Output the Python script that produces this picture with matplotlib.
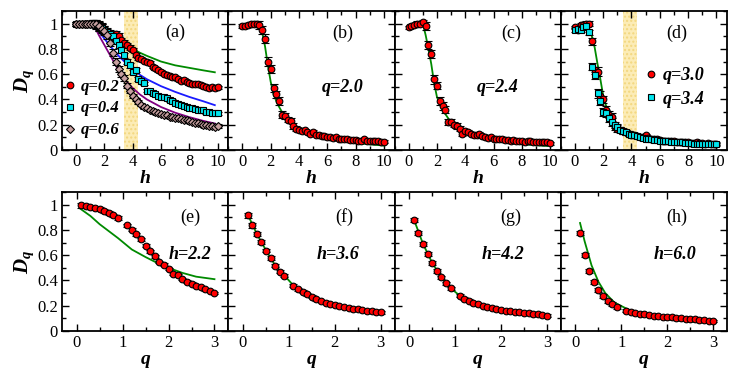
import matplotlib
matplotlib.use("Agg")
import matplotlib.pyplot as plt
from matplotlib.lines import Line2D
from matplotlib.ticker import MultipleLocator, FixedLocator, FixedFormatter

plt.rcParams['font.family'] = ['Liberation Serif', 'DejaVu Serif']
plt.rcParams['mathtext.fontset'] = 'custom'
plt.rcParams['mathtext.it'] = 'Liberation Serif:bold:italic'
plt.rcParams['mathtext.rm'] = 'Liberation Serif:bold'

# ---------------- data: top row, D_q vs h ----------------
h_vals = [0.0, 0.2, 0.4, 0.6, 0.8, 1.0, 1.2, 1.4, 1.6, 1.8, 2.0, 2.2, 2.4, 2.6, 2.8,
          3.0, 3.2, 3.4, 3.6, 3.8, 4.0, 4.2, 4.4, 4.6, 4.8, 5.0, 5.2, 5.4, 5.6, 5.8,
          6.0, 6.2, 6.4, 6.6, 6.8, 7.0, 7.2, 7.4, 7.6, 7.8, 8.0, 8.2, 8.4, 8.6, 8.8,
          9.0, 9.2, 9.4, 9.6, 9.8, 10.0]

err_h = [0.015, 0.015, 0.015, 0.02, 0.02, 0.02, 0.03, 0.03, 0.035, 0.035, 0.03, 0.03,
         0.03, 0.03, 0.025, 0.025, 0.02, 0.02, 0.02, 0.02, 0.015, 0.015, 0.015, 0.015,
         0.012, 0.012, 0.012, 0.012, 0.012, 0.012, 0.012, 0.012, 0.012, 0.012, 0.012,
         0.012, 0.012, 0.012, 0.012, 0.012, 0.012, 0.012, 0.012, 0.012, 0.012, 0.012,
         0.012, 0.012, 0.012, 0.012, 0.012]

dq_a_02 = [1.0, 1.0, 1.0, 1.0, 1.0, 1.0, 1.0, 0.995, 0.985, 0.97, 0.955, 0.935, 0.92,
           0.905, 0.92, 0.90, 0.87, 0.85, 0.83, 0.81, 0.79, 0.75, 0.73, 0.72, 0.705,
           0.70, 0.69, 0.66, 0.645, 0.63, 0.62, 0.605, 0.59, 0.585, 0.58, 0.575, 0.56,
           0.55, 0.555, 0.54, 0.53, 0.525, 0.52, 0.525, 0.515, 0.51, 0.50, 0.49, 0.50,
           0.49, 0.495]
dq_a_04 = [1.0, 1.0, 1.0, 1.0, 1.0, 1.0, 1.0, 0.99, 0.98, 0.965, 0.95, 0.93, 0.915,
           0.90, 0.86, 0.83, 0.79, 0.75, 0.70, 0.67, 0.62, 0.63, 0.56, 0.55, 0.53,
           0.47, 0.465, 0.45, 0.44, 0.43, 0.42, 0.42, 0.41, 0.395, 0.39, 0.375, 0.365,
           0.355, 0.345, 0.34, 0.335, 0.33, 0.325, 0.32, 0.32, 0.315, 0.30, 0.30, 0.295,
           0.29, 0.29]
dq_a_06 = [1.0, 1.0, 1.0, 1.0, 1.0, 1.0, 1.0, 0.995, 0.98, 0.96, 0.94, 0.91, 0.85,
           0.77, 0.70, 0.64, 0.60, 0.57, 0.51, 0.47, 0.43, 0.40, 0.38, 0.36, 0.34,
           0.33, 0.32, 0.31, 0.30, 0.29, 0.285, 0.28, 0.275, 0.265, 0.26, 0.255, 0.25,
           0.245, 0.24, 0.235, 0.23, 0.225, 0.215, 0.21, 0.205, 0.20, 0.195, 0.19, 0.19,
           0.185, 0.19]
dq_b_20 = [0.98, 0.985, 0.99, 0.995, 1.0, 1.0, 0.99, 0.95, 0.88, 0.70, 0.64, 0.49, 0.44,
           0.39, 0.28, 0.27, 0.24, 0.23, 0.19, 0.17, 0.16, 0.15, 0.155, 0.14, 0.13,
           0.145, 0.12, 0.12, 0.11, 0.11, 0.10, 0.10, 0.095, 0.10, 0.09, 0.09, 0.085,
           0.09, 0.08, 0.08, 0.08, 0.075, 0.075, 0.085, 0.075, 0.075, 0.07, 0.075, 0.07,
           0.065, 0.065]
dq_c_24 = [0.97, 0.98, 0.99, 1.0, 1.0, 1.01, 0.98, 0.83, 0.76, 0.56, 0.51, 0.39, 0.35,
           0.32, 0.22, 0.22, 0.20, 0.19, 0.17, 0.13, 0.15, 0.14, 0.13, 0.12, 0.12,
           0.13, 0.11, 0.10, 0.095, 0.10, 0.09, 0.09, 0.085, 0.09, 0.08, 0.08, 0.075,
           0.08, 0.07, 0.075, 0.07, 0.065, 0.07, 0.075, 0.065, 0.065, 0.06, 0.065, 0.065,
           0.06, 0.055]
dq_d_30 = [0.97, 0.95, 0.99, 0.99, 1.0, 1.0, 0.86, 0.63, 0.62, 0.43, 0.40, 0.32, 0.28,
           0.26, 0.18, 0.17, 0.16, 0.15, 0.14, 0.13, 0.12, 0.115, 0.11, 0.105, 0.10,
           0.115, 0.095, 0.09, 0.085, 0.085, 0.08, 0.075, 0.075, 0.075, 0.07, 0.07, 0.065,
           0.065, 0.06, 0.06, 0.06, 0.055, 0.055, 0.06, 0.055, 0.055, 0.05, 0.055, 0.05,
           0.05, 0.05]
dq_d_34 = [0.95, 0.96, 0.95, 0.97, 0.98, 0.93, 0.66, 0.59, 0.45, 0.39, 0.30, 0.29, 0.25,
           0.22, 0.20, 0.18, 0.16, 0.15, 0.14, 0.13, 0.12, 0.115, 0.11, 0.10, 0.095,
           0.09, 0.09, 0.085, 0.08, 0.08, 0.075, 0.07, 0.07, 0.07, 0.065, 0.065, 0.06,
           0.06, 0.06, 0.055, 0.055, 0.055, 0.05, 0.05, 0.05, 0.05, 0.05, 0.05, 0.045,
           0.045, 0.045]

# theory curves, top row
th_h_a = [1.2, 1.6, 2.0, 2.5, 3.0, 3.5, 4.0, 4.5, 5.0, 6.0, 7.0, 8.0, 9.0, 9.8]
th_a_02 = [1.0, 0.975, 0.945, 0.90, 0.86, 0.83, 0.80, 0.77, 0.745, 0.70, 0.67, 0.65, 0.63, 0.615]
th_a_04 = [1.0, 0.94, 0.88, 0.81, 0.745, 0.69, 0.64, 0.595, 0.56, 0.505, 0.46, 0.42, 0.385, 0.355]
th_a_06 = [1.0, 0.91, 0.83, 0.73, 0.63, 0.55, 0.49, 0.44, 0.40, 0.34, 0.295, 0.26, 0.23, 0.21]
th_h_b = [1.2, 1.4, 1.6, 1.8, 2.0, 2.2, 2.5, 2.8, 3.2, 3.6, 4.0, 5.0, 6.0, 7.0, 8.0, 9.0, 10.0]
th_b = [1.01, 0.93, 0.82, 0.67, 0.54, 0.44, 0.36, 0.30, 0.24, 0.20, 0.17, 0.12, 0.09,
        0.07, 0.055, 0.045, 0.035]
th_h_c = [1.0, 1.2, 1.4, 1.6, 1.8, 2.0, 2.2, 2.5, 2.8, 3.2, 3.6, 4.0, 5.0, 6.0, 7.0,
          8.0, 9.0, 9.8]
th_c = [1.0, 0.91, 0.80, 0.68, 0.53, 0.42, 0.36, 0.30, 0.25, 0.19, 0.155, 0.13, 0.095,
        0.075, 0.058, 0.047, 0.038, 0.032]
th_h_d = [1.0, 1.2, 1.4, 1.6, 1.8, 2.0, 2.2, 2.5, 2.8, 3.2, 3.6, 4.0, 5.0, 6.0, 7.0,
          8.0, 9.0, 10.0]
th_d = [0.95, 0.90, 0.81, 0.68, 0.56, 0.43, 0.35, 0.28, 0.22, 0.175, 0.14, 0.12, 0.09,
        0.068, 0.058, 0.05, 0.043, 0.037]

band_h = (3.4, 4.4)

# ---------------- data: bottom row, D_q vs q ----------------
q_vals = [0.1, 0.2, 0.3, 0.4, 0.5, 0.6, 0.7, 0.8, 0.9, 1.1, 1.2, 1.3, 1.4, 1.5, 1.6,
          1.7, 1.8, 1.9, 2.0, 2.1, 2.2, 2.3, 2.4, 2.5, 2.6, 2.7, 2.8, 2.9, 3.0]
err_q = [0.018, 0.018, 0.016, 0.016, 0.015, 0.015, 0.014, 0.014, 0.013, 0.012, 0.012,
         0.012, 0.011, 0.011, 0.011, 0.01, 0.01, 0.01, 0.01, 0.01, 0.01, 0.01, 0.01,
         0.01, 0.01, 0.01, 0.01, 0.01, 0.01]

dq_e = [0.995, 0.99, 0.982, 0.973, 0.963, 0.95, 0.935, 0.915, 0.895, 0.835, 0.80, 0.765,
        0.725, 0.675, 0.63, 0.59, 0.545, 0.525, 0.49, 0.455, 0.44, 0.41, 0.39, 0.375,
        0.36, 0.345, 0.33, 0.315, 0.30]
dq_f = [0.915, 0.835, 0.767, 0.703, 0.637, 0.58, 0.517, 0.47, 0.438, 0.358, 0.332, 0.31,
        0.289, 0.27, 0.252, 0.236, 0.225, 0.215, 0.204, 0.197, 0.19, 0.183, 0.177,
        0.172, 0.167, 0.162, 0.158, 0.154, 0.148]
dq_g = [0.88, 0.775, 0.687, 0.607, 0.54, 0.477, 0.424, 0.377, 0.337, 0.279, 0.257, 0.239,
        0.225, 0.21, 0.20, 0.19, 0.182, 0.175, 0.168, 0.162, 0.157, 0.152, 0.147, 0.143,
        0.139, 0.135, 0.132, 0.129, 0.122]
dq_h = [0.775, 0.602, 0.477, 0.39, 0.324, 0.276, 0.239, 0.212, 0.191, 0.162, 0.151,
        0.145, 0.138, 0.132, 0.127, 0.122, 0.118, 0.114, 0.11, 0.107, 0.104, 0.101,
        0.098, 0.095, 0.092, 0.089, 0.086, 0.083, 0.08]

th_q_e = [0.07, 0.3, 0.5, 0.7, 0.9, 1.2, 1.5, 1.8, 2.0, 2.3, 2.6, 3.0]
th_e = [0.97, 0.91, 0.845, 0.79, 0.735, 0.645, 0.585, 0.53, 0.50, 0.46, 0.43, 0.41]
th_q_fg = [0.1, 0.3, 0.5, 0.7, 0.9, 1.1, 1.4, 1.7, 2.0, 2.5, 3.0]
th_f = [0.925, 0.77, 0.64, 0.52, 0.44, 0.36, 0.29, 0.236, 0.204, 0.172, 0.146]
th_g = [0.885, 0.69, 0.54, 0.425, 0.34, 0.28, 0.225, 0.19, 0.168, 0.143, 0.12]
th_q_h = [0.1, 0.2, 0.35, 0.5, 0.65, 0.85, 1.15, 1.5, 1.85, 2.3, 2.6, 3.0]
th_h = [0.855, 0.71, 0.52, 0.39, 0.30, 0.225, 0.17, 0.125, 0.098, 0.08, 0.072, 0.066]

y_ticks = [0, 0.2, 0.4, 0.6, 0.8, 1.0]
y_ticklabels = ['0', '0.2', '0.4', '0.6', '0.8', '1']

RED = dict(marker='o', mfc='red', mec='black', ms=4.8, mew=0.8)
CYAN = dict(marker='s', mfc='#00e5ee', mec='black', ms=4.2, mew=0.8)
DIAM = dict(marker='D', mfc='#c8a0a0', mec='black', ms=3.6, mew=0.8)
GREEN = '#008a00'

fig = plt.figure(figsize=(7.47, 3.73), dpi=100)

W, HT = 166.25 / 747, 139 / 373
lefts = [(62 + i * 166.25) / 747 for i in range(4)]
top_axes = [fig.add_axes([l, 1 - 150 / 373, W, HT]) for l in lefts]
bot_axes = [fig.add_axes([l, 1 - 331 / 373, W, HT]) for l in lefts]


def pts(ax, x, y, err, style):
    ax.errorbar(x, y, yerr=err, fmt='none', ecolor='black', elinewidth=0.8,
                capsize=3.2, capthick=0.8, zorder=3)
    ax.plot(x, y, linestyle='none', zorder=4, **style)


def style_axes(ax, top):
    ax.set_ylim(0, 1.1)
    ax.yaxis.set_major_locator(FixedLocator(y_ticks))
    ax.yaxis.set_minor_locator(MultipleLocator(0.1))
    if top:
        ax.set_xlim(-1, 10.75)
        ax.xaxis.set_major_locator(MultipleLocator(2))
        ax.xaxis.set_minor_locator(MultipleLocator(1))
    else:
        ax.set_xlim(-0.32, 3.3)
        ax.xaxis.set_major_locator(MultipleLocator(1))
        ax.xaxis.set_minor_locator(MultipleLocator(0.5))
    ax.tick_params(which='both', direction='in', top=True, right=True, labelsize=12,
                   width=1.0, pad=3)
    ax.tick_params(which='major', length=5)
    ax.tick_params(which='minor', length=3)
    for s in ax.spines.values():
        s.set_linewidth(1.3)


LBL = dict(fontsize=14, fontweight='bold', fontstyle='italic')
TAG = dict(fontsize=13, fontweight='bold', fontstyle='italic', ha='center', va='center')

for i, ax in enumerate(top_axes):
    style_axes(ax, True)
    ax.set_xlabel('h', labelpad=0, **LBL)
for i, ax in enumerate(bot_axes):
    style_axes(ax, False)
    ax.set_xlabel('q', labelpad=0, **LBL)

for ax in top_axes + bot_axes:
    if ax in (top_axes[0], bot_axes[0]):
        ax.yaxis.set_major_formatter(FixedFormatter(y_ticklabels))
        ax.set_ylabel(r'$D_q$', fontsize=15, labelpad=1)
    else:
        ax.set_yticklabels([])

# yellow bands
for ax in (top_axes[0], top_axes[3]):
    ax.axvspan(*band_h, facecolor='#fcecb6', edgecolor='#f3d77f', hatch='....',
               linewidth=0, zorder=1)

# (a)
ax = top_axes[0]
ax.plot(th_h_a, th_a_02, color=GREEN, lw=1.3, zorder=2)
ax.plot(th_h_a, th_a_04, color='#1a1aff', lw=1.3, zorder=2)
ax.plot(th_h_a, th_a_06, color='#800080', lw=1.3, zorder=2)
pts(ax, h_vals, dq_a_02, err_h, RED)
pts(ax, h_vals, dq_a_04, err_h, CYAN)
pts(ax, h_vals, dq_a_06, err_h, DIAM)
handles = [Line2D([0], [0], linestyle='none', **RED),
           Line2D([0], [0], linestyle='none', **CYAN),
           Line2D([0], [0], linestyle='none', **DIAM)]
ax.legend(handles, ['q=0.2', 'q=0.4', 'q=0.6'], loc='lower left',
          bbox_to_anchor=(-0.06, 0.0), frameon=False, handlelength=0.7,
          handletextpad=0.3, labelspacing=0.35, borderpad=0.2,
          prop=dict(size=12, weight='bold', style='italic'))
ax.text(0.68, 0.85, '(a)', transform=ax.transAxes, ha='center', va='center', fontsize=13)

# (b)
ax = top_axes[1]
ax.plot(th_h_b, th_b, color=GREEN, lw=1.3, zorder=2)
pts(ax, h_vals, dq_b_20, err_h, RED)
ax.text(0.69, 0.84, '(b)', transform=ax.transAxes, ha='center', va='center', fontsize=13)
ax.text(0.69, 0.45, 'q=2.0', transform=ax.transAxes, **TAG)

# (c)
ax = top_axes[2]
ax.plot(th_h_c, th_c, color=GREEN, lw=1.3, zorder=2)
pts(ax, h_vals, dq_c_24, err_h, RED)
ax.text(0.70, 0.84, '(c)', transform=ax.transAxes, ha='center', va='center', fontsize=13)
ax.text(0.62, 0.45, 'q=2.4', transform=ax.transAxes, **TAG)

# (d)
ax = top_axes[3]
ax.plot(th_h_d, th_d, color=GREEN, lw=1.3, zorder=2)
pts(ax, h_vals, dq_d_30, err_h, RED)
pts(ax, h_vals, dq_d_34, err_h, CYAN)
handles = [Line2D([0], [0], linestyle='none', **RED),
           Line2D([0], [0], linestyle='none', **CYAN)]
ax.legend(handles, ['q=3.0', 'q=3.4'], loc='center left',
          bbox_to_anchor=(0.43, 0.45), frameon=False, handlelength=0.7,
          handletextpad=0.3, labelspacing=0.35, borderpad=0.2,
          prop=dict(size=13, weight='bold', style='italic'))
ax.text(0.70, 0.84, '(d)', transform=ax.transAxes, ha='center', va='center', fontsize=13)

# bottom row
bottom = [(dq_e, th_q_e, th_e, '(e)', 'h=2.2', 0.77),
          (dq_f, th_q_fg, th_f, '(f)', 'h=3.6', 0.66),
          (dq_g, th_q_fg, th_g, '(g)', 'h=4.2', 0.65),
          (dq_h, th_q_h, th_h, '(h)', 'h=6.0', 0.69)]
for ax, (dq, tq, tv, tag, lab, lx) in zip(bot_axes, bottom):
    ax.plot(tq, tv, color=GREEN, lw=1.3, zorder=2)
    pts(ax, q_vals, dq, err_q, RED)
    ax.text(0.70 if tag != '(e)' else 0.77, 0.82, tag, transform=ax.transAxes,
            ha='center', va='center', fontsize=13)
    ax.text(lx, 0.55, lab, transform=ax.transAxes, **TAG)

fig.savefig('out.png', dpi=100)
